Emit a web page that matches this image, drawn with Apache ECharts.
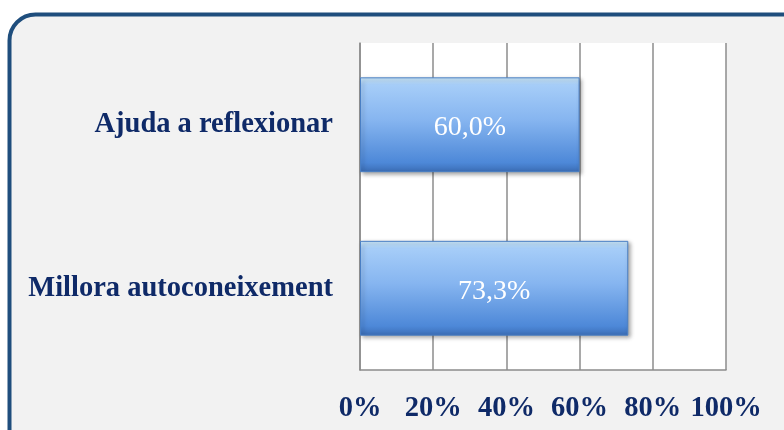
<!DOCTYPE html>
<html>
<head>
<meta charset="utf-8">
<script src="https://cdn.jsdelivr.net/npm/echarts@6/dist/echarts.min.js"></script>
<style>
  html, body { margin: 0; padding: 0; background: #fff; }
  #chart { width: 784px; height: 430px; }
</style>
</head>
<body>
<div id="chart"></div>
<script>
// dades
const categories = ['Ajuda a reflexionar', 'Millora autoconeixement']
const values = [60.0, 73.3]
const tickMin = 0
const tickMax = 100
const tickStep = 20

const navy = '#0f2a68'
const serif = '"Liberation Serif", "DejaVu Serif", serif'

const chart = echarts.init(document.getElementById('chart'))

const opt = {
  animation: false,
  backgroundColor: '#fff',
  graphic: [
    {
      type: 'rect',
      z: -10,
      silent: true,
      shape: { x: 9.5, y: 14.5, width: 820, height: 460, r: 26 },
      style: { fill: '#f2f2f2', stroke: '#1f4e7d', lineWidth: 4 }
    }
  ],
  grid: {
    left: 360,
    right: 58,
    top: 43,
    bottom: 60,
    show: true,
    backgroundColor: '#fff',
    borderWidth: 0
  },
  xAxis: {
    type: 'value',
    min: tickMin,
    max: tickMax,
    interval: tickStep,
    axisLine: { show: true, lineStyle: { color: '#8c8c8c', width: 1.5 } },
    axisTick: { show: false },
    splitLine: { show: true, lineStyle: { color: '#8c8c8c', width: 1.5 } },
    axisLabel: {
      formatter: '{value}%',
      color: navy,
      fontFamily: serif,
      fontWeight: 'bold',
      fontSize: 28.5,
      margin: 24
    }
  },
  yAxis: {
    type: 'category',
    inverse: true,
    data: categories,
    axisLine: { show: true, lineStyle: { color: '#8c8c8c', width: 1.5 } },
    axisTick: { show: false },
    axisLabel: {
      color: navy,
      fontFamily: serif,
      fontWeight: 'bold',
      fontSize: 28.5,
      margin: 27
    }
  },
  series: [
    {
      type: 'bar',
      data: values,
      barCategoryGap: '42%',
      itemStyle: {
        color: new echarts.graphic.LinearGradient(0, 0, 0, 1, [
          { offset: 0, color: '#cdeafb' },
          { offset: 0.08, color: '#a6cdf8' },
          { offset: 0.45, color: '#86b5f0' },
          { offset: 0.9, color: '#4d88d8' },
          { offset: 1, color: '#3b6db5' }
        ]),
        borderColor: '#4a7fc4',
        borderWidth: 1,
        shadowColor: 'rgba(0,0,0,0.35)',
        shadowBlur: 4,
        shadowOffsetX: 2,
        shadowOffsetY: 2
      },
      label: {
        show: true,
        position: 'inside',
        color: '#fff',
        fontFamily: serif,
        fontSize: 28,
        offset: [0, 3],
        formatter: p => p.value.toFixed(1).replace('.', ',') + '%'
      }
    }
  ]
}

chart.setOption(opt)
</script>
</body>
</html>
